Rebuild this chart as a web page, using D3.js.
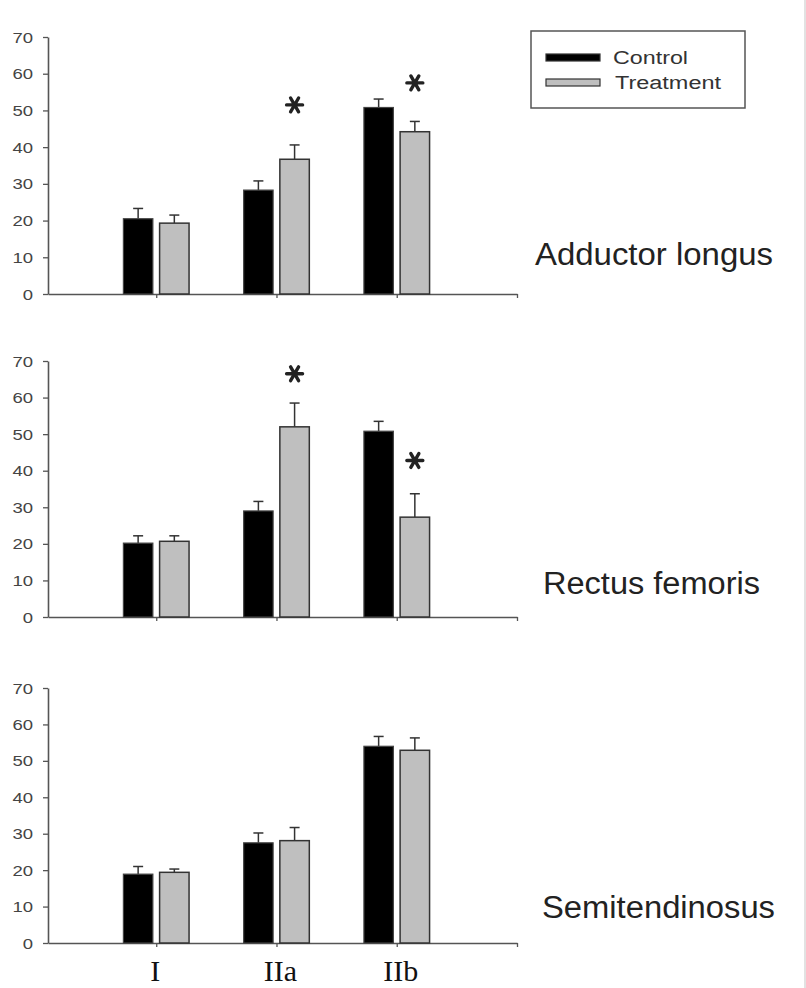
<!DOCTYPE html>
<html>
<head>
<meta charset="utf-8">
<script src="https://cdn.jsdelivr.net/npm/d3@7"></script>
<style>
  body { margin: 0; background: #fff; }
  svg { display: block; }
</style>
</head>
<body>
<script>
// fibre type proportions, three muscles, control vs treatment
var categories = ["I", "IIa", "IIb"];
var muscles = ["Adductor longus", "Rectus femoris", "Semitendinosus"];
var yTicks = [0, 10, 20, 30, 40, 50, 60, 70];

var controlMean = [[20.5, 28.3, 50.8], [20.2, 29.0, 50.8], [18.9, 27.5, 54.0]];
var controlErr  = [[2.8, 2.5, 2.3], [2.0, 2.6, 2.7], [2.1, 2.7, 2.7]];
var treatMean   = [[19.3, 36.7, 44.2], [20.7, 52.0, 27.3], [19.4, 28.1, 52.9]];
var treatErr    = [[2.2, 3.9, 2.8], [1.5, 6.5, 6.4], [0.9, 3.6, 3.4]];
// height (in y units) of the significance star, null = none
var starAt      = [[null, 51.5, 57.5], [null, 66.5, 42.8], [null, null, null]];

var w = 806, h = 988;
var svg = d3.select("body").append("svg")
    .attr("width", w)
    .attr("height", h);

// faint frame line on right edge of the scan
svg.append("line")
    .attr("x1", 805).attr("x2", 805).attr("y1", 0).attr("y2", h)
    .attr("stroke", "#d8d8d8").attr("stroke-width", 1.5);

// panel placement: pixel of y=0 and y=70
var panels = [
    {y0: 294, y70: 37, labelX: 535, labelY: 265, labelLen: 238},
    {y0: 617, y70: 361, labelX: 543, labelY: 594, labelLen: 217},
    {y0: 943, y70: 688, labelX: 542, labelY: 918, labelLen: 233}
];

var x = d3.scaleLinear().domain([0.1, 4]).range([48, 517]);
var barW = 0.245, gap = 0.028;
var axisCol = "#555";

panels.forEach(function(p, pi) {
    var y = d3.scaleLinear().domain([0, 70]).range([p.y0, p.y70]);
    var g = svg.append("g");

    // y axis
    var ya = g.append("g")
        .attr("transform", "translate(" + x(0.1) + ",0)")
        .call(d3.axisLeft(y).tickValues(yTicks).tickSize(5).tickSizeOuter(0).tickPadding(10));
    ya.select(".domain").attr("stroke", axisCol).attr("stroke-width", 1.6);
    ya.selectAll(".tick line").attr("stroke", axisCol).attr("stroke-width", 1.3);
    ya.selectAll(".tick text")
        .attr("fill", "#444")
        .attr("font-family", "Liberation Sans, Arial, sans-serif")
        .attr("font-size", 14)
        .attr("dy", "0.36em")
        .attr("textLength", function(d) { return String(d).length * 10.3; })
        .attr("lengthAdjust", "spacingAndGlyphs");

    // x axis
    var xa = g.append("g")
        .attr("transform", "translate(0," + p.y0 + ")")
        .call(d3.axisBottom(x).tickValues([1, 2, 3, 4]).tickFormat("").tickSize(4).tickSizeOuter(0));
    xa.select(".domain").attr("stroke", axisCol).attr("stroke-width", 1.6);
    xa.selectAll(".tick line").attr("stroke", axisCol).attr("stroke-width", 1.3);

    var rows = categories.map(function(c, i) {
        return {i: i + 1, cm: controlMean[pi][i], ce: controlErr[pi][i],
                tm: treatMean[pi][i], te: treatErr[pi][i], star: starAt[pi][i]};
    });

    // error bars (upward only), drawn before bars
    function errBar(sel, cx, mean, err) {
        sel.append("line")
            .attr("x1", cx).attr("x2", cx)
            .attr("y1", y(mean)).attr("y2", y(mean + err))
            .attr("stroke", "#333").attr("stroke-width", 1.5);
        sel.append("line")
            .attr("x1", cx - 5).attr("x2", cx + 5)
            .attr("y1", y(mean + err)).attr("y2", y(mean + err))
            .attr("stroke", "#333").attr("stroke-width", 1.5);
    }

    rows.forEach(function(d) {
        var cx0 = d.i - gap - barW, cx1 = d.i + gap;
        errBar(g, x(cx0 + barW / 2), d.cm, d.ce);
        errBar(g, x(cx1 + barW / 2), d.tm, d.te);
    });

    g.selectAll(".ctl")
        .data(rows)
        .enter()
        .append("rect")
        .attr("x", function(d) { return x(d.i - gap - barW); })
        .attr("width", x(barW) - x(0))
        .attr("y", function(d) { return y(d.cm); })
        .attr("height", function(d) { return y(0) - y(d.cm); })
        .attr("fill", "#000")
        .attr("stroke", "#444")
        .attr("stroke-width", 1.2);

    g.selectAll(".trt")
        .data(rows)
        .enter()
        .append("rect")
        .attr("x", function(d) { return x(d.i + gap); })
        .attr("width", x(barW) - x(0))
        .attr("y", function(d) { return y(d.tm); })
        .attr("height", function(d) { return y(0) - y(d.tm); })
        .attr("fill", "#bfbfbf")
        .attr("stroke", "#333")
        .attr("stroke-width", 1.5);

    // significance stars
    g.selectAll(".star")
        .data(rows.filter(function(d) { return d.star != null; }))
        .enter()
        .append("path")
        .attr("d", d3.symbol(d3.symbolAsterisk, 180))
        .attr("transform", function(d) {
            return "translate(" + x(d.i + gap + barW / 2) + "," + y(d.star) + ") rotate(90)";
        })
        .attr("fill", "none")
        .attr("stroke", "#222")
        .attr("stroke-width", 3.4)
        .attr("stroke-linecap", "round");

    // muscle name
    g.append("text")
        .attr("x", p.labelX)
        .attr("y", p.labelY)
        .attr("font-family", "Liberation Sans, Arial, sans-serif")
        .attr("font-size", 31)
        .attr("fill", "#222")
        .attr("textLength", p.labelLen)
        .attr("lengthAdjust", "spacingAndGlyphs")
        .text(muscles[pi]);

    // category labels only under the last panel
    if (pi == panels.length - 1) {
        g.selectAll(".cat")
            .data(categories)
            .enter()
            .append("text")
            .attr("x", function(d, i) { return x(i + 1) + (i == 0 ? -1 : 4); })
            .attr("y", 981)
            .attr("text-anchor", "middle")
            .attr("font-family", "Liberation Serif, Times New Roman, serif")
            .attr("font-size", 30)
            .attr("fill", "#111")
            .text(function(d) { return d; });
    }
});

// legend
var legend = svg.append("g");
legend.append("rect")
    .attr("x", 531).attr("y", 31).attr("width", 214).attr("height", 77)
    .attr("fill", "#fff").attr("stroke", "#555").attr("stroke-width", 1.5);

var legendItems = [
    {name: "Control", fill: "#000", len: 75},
    {name: "Treatment", fill: "#bfbfbf", len: 106}
];
legendItems.forEach(function(d, i) {
    legend.append("rect")
        .attr("x", 546).attr("y", 54 + i * 25).attr("width", 54).attr("height", 7)
        .attr("fill", d.fill).attr("stroke", "#333").attr("stroke-width", 1.2);
    legend.append("text")
        .attr("x", 613 + i * 2).attr("y", 63.5 + i * 25.5)
        .attr("font-family", "Liberation Sans, Arial, sans-serif")
        .attr("font-size", 18)
        .attr("fill", "#333")
        .attr("textLength", d.len)
        .attr("lengthAdjust", "spacingAndGlyphs")
        .text(d.name);
});
</script>
</body>
</html>
